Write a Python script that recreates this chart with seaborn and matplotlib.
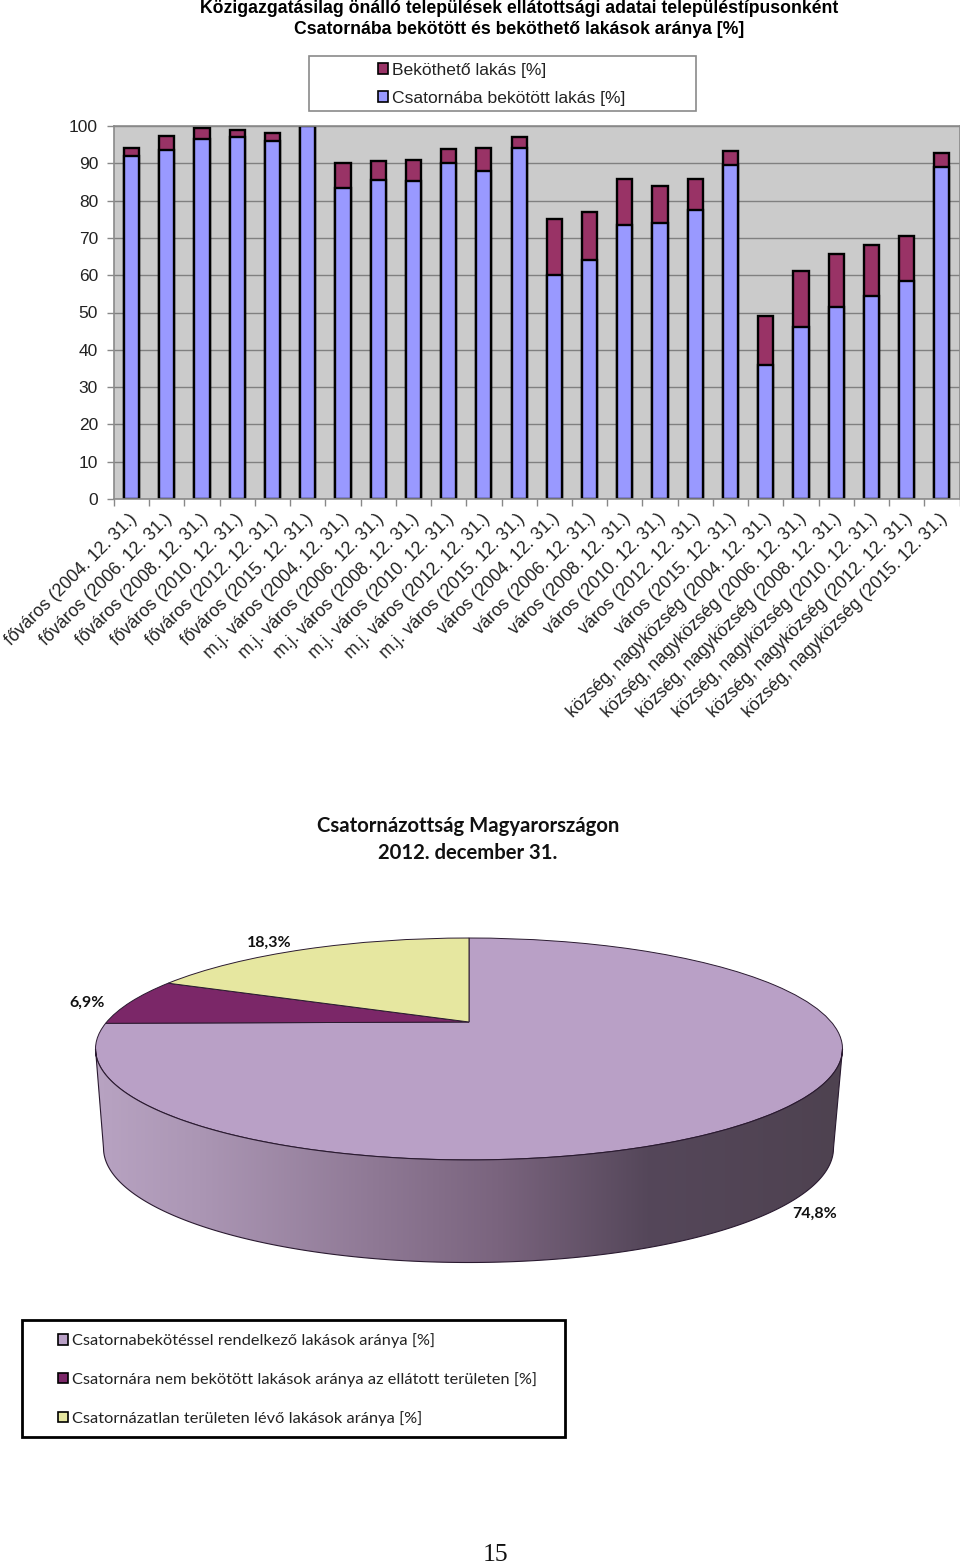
import numpy as np
import matplotlib
matplotlib.use('Agg')
import matplotlib.pyplot as plt
import seaborn as sns
from matplotlib.colors import LinearSegmentedColormap
from matplotlib.patches import Patch, Polygon, Rectangle
from matplotlib.transforms import ScaledTranslation, Transform

places = ['főváros'] * 6 + ['m.j. város'] * 6 + ['város'] * 6 + ['község, nagyközség'] * 6
years = [2004, 2006, 2008, 2010, 2012, 2015] * 4
connected = [92, 93.5, 96.5, 97, 96, 100, 83.5, 85.5, 85.2, 90, 88, 94,
             60, 64, 73.5, 74, 77.5, 89.5, 36, 46, 51.5, 54.5, 58.5, 89]
total = [94, 97.3, 99.5, 99, 98.2, 100, 90, 90.5, 91, 93.7, 94, 97,
         75, 77, 85.8, 84, 85.8, 93.2, 49, 61, 65.7, 68.2, 70.5, 92.7]
bar_legend = ['Beköthető lakás [%]', 'Csatornába bekötött lakás [%]']
yticks = list(range(0, 101, 10))

pie_shares = [74.8, 6.9, 18.3]
pie_colors = ['#B9A0C6', '#7B2768', '#E6E7A0']
pie_legend = ['Csatornabekötéssel rendelkező lakások aránya [%]',
              'Csatornára nem bekötött lakások aránya az ellátott területen [%]',
              'Csatornázatlan területen lévő lakások aránya [%]']

labels = [f'{p} ({y}. 12. 31.)' for p, y in zip(places, years)]

sns.set_theme(style='white')
plt.rcParams['font.family'] = ['Liberation Sans', 'DejaVu Sans']

W, H = 960, 1565
fig = plt.figure(figsize=(W / 100, H / 100), dpi=100, facecolor='white')

# page axes in pixels, for the pie and the boxes
page = fig.add_axes([0, 0, 1, 1], zorder=0)


class Perspective(Transform):
    # tilts the flat pie, the centre sits above the middle of the ellipse
    input_dims = output_dims = 2
    has_inverse = False

    def transform_non_affine(self, values):
        values = np.asarray(values)
        d = 1 + 0.243 * values[:, 1]
        return np.column_stack([469 + 362.3 * values[:, 0] / d,
                                1022 - 104.4 * values[:, 1] / d])


wedges, _ = page.pie(pie_shares, colors=pie_colors, startangle=90, counterclock=False,
                     wedgeprops={'linewidth': 0.7, 'edgecolor': '#2a1a30'})
persp = Perspective()
for w in wedges:
    w.set_transform(persp + page.transData)

# side of the pie with the shading
start = np.arcsin(0.243)
theta = np.linspace(np.pi + start, 2 * np.pi - start, 200)
rim = persp.transform_non_affine(np.column_stack([np.cos(theta), np.sin(theta)]))
base_t = np.linspace(np.pi, 2 * np.pi, 200)
base = np.column_stack([468.5 + 365 * np.cos(base_t), 1148 - 114.5 * np.sin(base_t)])
wall = Polygon(np.vstack([rim, base[::-1]]), closed=True, fc='none', ec='#2a1a30', lw=0.8,
               transform=page.transData, zorder=2)
page.add_patch(wall)
shade = LinearSegmentedColormap.from_list('shade', [
    (0.0, '#B8A3C2'), (0.14, '#AB96B4'), (0.38, '#8E7894'), (0.54, '#7A647E'),
    (0.74, '#55475A'), (1.0, '#4E4250')])
img = page.imshow(np.linspace(0, 1, 256)[None, :], cmap=shade, extent=(95, 842, 1270, 1040),
                  aspect='auto', zorder=1)
img.set_clip_path(wall)

page.set_aspect('auto')
page.set_xlim(0, W)
page.set_ylim(H, 0)
page.axis('off')

page.text(269, 943, f'{pie_shares[2]:.1f}%'.replace('.', ','), ha='center', va='center',
          family='Lato', weight='bold', fontsize=11.5, color='#111111')
page.text(87, 1003, f'{pie_shares[1]:.1f}%'.replace('.', ','), ha='center', va='center',
          family='Lato', weight='bold', fontsize=11.5, color='#111111')
page.text(815, 1214, f'{pie_shares[0]:.1f}%'.replace('.', ','), ha='center', va='center',
          family='Lato', weight='bold', fontsize=11.5, color='#111111')

page.text(468, 826, 'Csatornázottság Magyarországon', ha='center', va='center',
          family='Lato', weight='bold', fontsize=14.6, color='#111111')
page.text(468, 853, '2012. december 31.', ha='center', va='center',
          family='Lato', weight='bold', fontsize=14.6, color='#111111')

page.text(519, 8.5, 'Közigazgatásilag önálló települések ellátottsági adatai településtípusonként',
          ha='center', va='center', weight='bold', fontsize=12.7, color='black')
page.text(519, 29, 'Csatornába bekötött és beköthető lakások aránya [%]',
          ha='center', va='center', weight='bold', fontsize=12.7, color='black')
page.text(495, 1555, '15', ha='center', va='center', family='Liberation Serif',
          fontsize=18.5, color='#111111')

# legend boxes
page.add_patch(Rectangle((309, 56), 387, 55, fc='white', ec='#8a8a8a', lw=1.2))
page.add_patch(Rectangle((22, 1320), 543, 117, fc='white', ec='black', lw=2))

handles = [Patch(fc='#993366', ec='black', lw=1.2), Patch(fc='#9999FF', ec='black', lw=1.2)]
page.legend(handles, bar_legend, loc='upper left', bbox_to_anchor=(378, 63),
            bbox_transform=page.transData, frameon=False, borderpad=0, borderaxespad=0,
            handlelength=0.57, handleheight=0.57, handletextpad=0.25, labelspacing=0.74,
            fontsize=12.6, labelcolor='#222222')
page.add_artist(page.get_legend())

handles = [Patch(fc=c, ec='black', lw=1.2) for c in pie_colors]
page.legend(handles, pie_legend, loc='upper left', bbox_to_anchor=(58, 1333),
            bbox_transform=page.transData, frameon=False, borderpad=0, borderaxespad=0,
            handlelength=0.63, handleheight=0.63, handletextpad=0.25, labelspacing=1.47,
            prop={'family': 'Lato', 'size': 11.75}, labelcolor='#222222')

# stacked bars: the total behind, the connected part over it
ax = fig.add_axes([114 / W, 1 - 499 / H, 845.5 / W, 373 / H], zorder=1)
sns.barplot(x=labels, y=total, color='#993366', saturation=1, width=0.43,
            edgecolor='black', linewidth=1.7, ax=ax)
sns.barplot(x=labels, y=connected, color='#9999FF', saturation=1, width=0.43,
            edgecolor='black', linewidth=1.7, ax=ax)

ax.set_facecolor('#CBCBCB')
ax.set_xlim(-0.5, 23.5)
ax.set_ylim(0, 100)
ax.set_yticks(yticks)
ax.set_axisbelow(True)
ax.grid(axis='y', color='#808080', lw=1)
ax.grid(axis='x', visible=False)
ax.set_xticks(np.arange(-0.5, 24, 1), minor=True)
ax.tick_params(axis='x', which='major', length=0, pad=12.5)
ax.tick_params(axis='x', which='minor', length=5, width=1, color='#888888', bottom=True)
ax.tick_params(axis='y', length=5, width=1, color='#888888', left=True, pad=6.5)
ax.tick_params(axis='y', labelsize=12.5, labelcolor='#222222')
shift = ScaledTranslation(3 / 100, 0, fig.dpi_scale_trans)
for tick in ax.get_xticklabels():
    tick.set_rotation(45)
    tick.set_ha('right')
    tick.set_va('center')
    tick.set_rotation_mode('anchor')
    tick.set_fontsize(12.8)
    tick.set_color('#222222')
    tick.set_transform(tick.get_transform() + shift)
for side, spine in ax.spines.items():
    spine.set_visible(True)
    spine.set_color('#8a8a8a')
    spine.set_linewidth(1.2)

plt.savefig('out.png', dpi=100, facecolor='white')
